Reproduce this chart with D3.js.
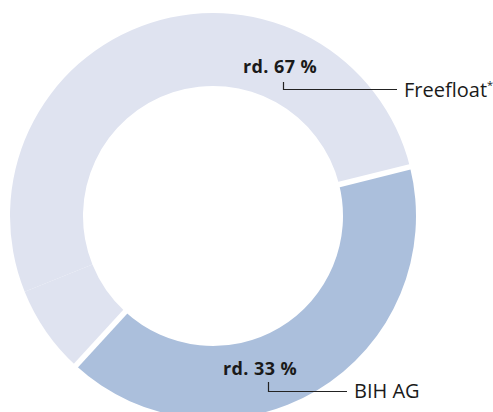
<!DOCTYPE html>
<html>
<head>
<meta charset="utf-8">
<script src="https://cdn.jsdelivr.net/npm/d3@7"></script>
<style>
  body { margin: 0; background: #fff; }
  svg { display: block; }
  text { font-family: "Open Sans", "Noto Sans", sans-serif; fill: #1a1a1a; }
</style>
</head>
<body>
<div id="chart"></div>
<script>
// slices as drawn (share of the ring)
var segments = ["BIH AG", "Freefloat (a)", "Freefloat (b)"];
var shares = [40.7, 7.1, 52.2];
var segColors = ["#abbfdc", "#dfe3f0", "#dfe3f0"];

// labels
var labelNames = ["Freefloat", "BIH AG"];
var labelValues = ["rd. 67 %", "rd. 33 %"];
var labelMarks = ["*", ""];

var width = 493, height = 412;
var cx = 213, cy = 216;
var outerR = 203, innerR = 130;

var svg = d3.select("#chart")
    .append("svg")
    .attr("width", width)
    .attr("height", height);

var g = svg.append("g")
    .attr("transform", "translate(" + cx + "," + cy + ")");

var start = 76 * Math.PI / 180;
var pie = d3.pie()
    .sort(null)
    .startAngle(start)
    .endAngle(start + 2 * Math.PI);

var arc = d3.arc()
    .innerRadius(innerR)
    .outerRadius(outerR);

var arcs = pie(shares);

g.selectAll("path.slice")
    .data(arcs)
    .enter().append("path")
    .attr("class", "slice")
    .attr("d", arc)
    .attr("fill", function(d, i) { return segColors[i]; });

// white gaps on both sides of the BIH slice
var cuts = [arcs[0].startAngle, arcs[0].endAngle];
g.selectAll("line.gap")
    .data(cuts)
    .enter().append("line")
    .attr("class", "gap")
    .attr("x1", function(a) { return Math.sin(a) * (innerR - 2); })
    .attr("y1", function(a) { return -Math.cos(a) * (innerR - 2); })
    .attr("x2", function(a) { return Math.sin(a) * (outerR + 2); })
    .attr("y2", function(a) { return -Math.cos(a) * (outerR + 2); })
    .attr("stroke", "#fff")
    .attr("stroke-width", 5.5);

// annotation layout (screen coords)
var layout = [
  { vx: 280, vy: 73, lx0: 283.5, ly0: 82, ly: 89, lx1: 397, tx: 404, ty: 97 },
  { vx: 260, vy: 375, lx0: 268.5, ly0: 382, ly: 391, lx1: 347, tx: 354, ty: 398 }
];

var ann = svg.selectAll("g.ann")
    .data(labelNames)
    .enter().append("g")
    .attr("class", "ann");

ann.append("text")
    .attr("x", function(d, i) { return layout[i].vx; })
    .attr("y", function(d, i) { return layout[i].vy; })
    .attr("text-anchor", "middle")
    .attr("font-size", 18)
    .attr("font-weight", "bold")
    .attr("letter-spacing", 0.4)
    .text(function(d, i) { return labelValues[i]; });

ann.append("path")
    .attr("d", function(d, i) {
      var l = layout[i];
      return "M" + l.lx0 + "," + l.ly0 + "V" + (l.ly + 0.5) + "H" + l.lx1;
    })
    .attr("fill", "none")
    .attr("stroke", "#222")
    .attr("stroke-width", 1.2);

var t = ann.append("text")
    .attr("x", function(d, i) { return layout[i].tx; })
    .attr("y", function(d, i) { return layout[i].ty; })
    .attr("font-size", 20);

t.append("tspan").text(function(d) { return d; });
t.append("tspan")
    .attr("font-size", 11)
    .attr("dy", -8)
    .text(function(d, i) { return labelMarks[i]; });
</script>
</body>
</html>
